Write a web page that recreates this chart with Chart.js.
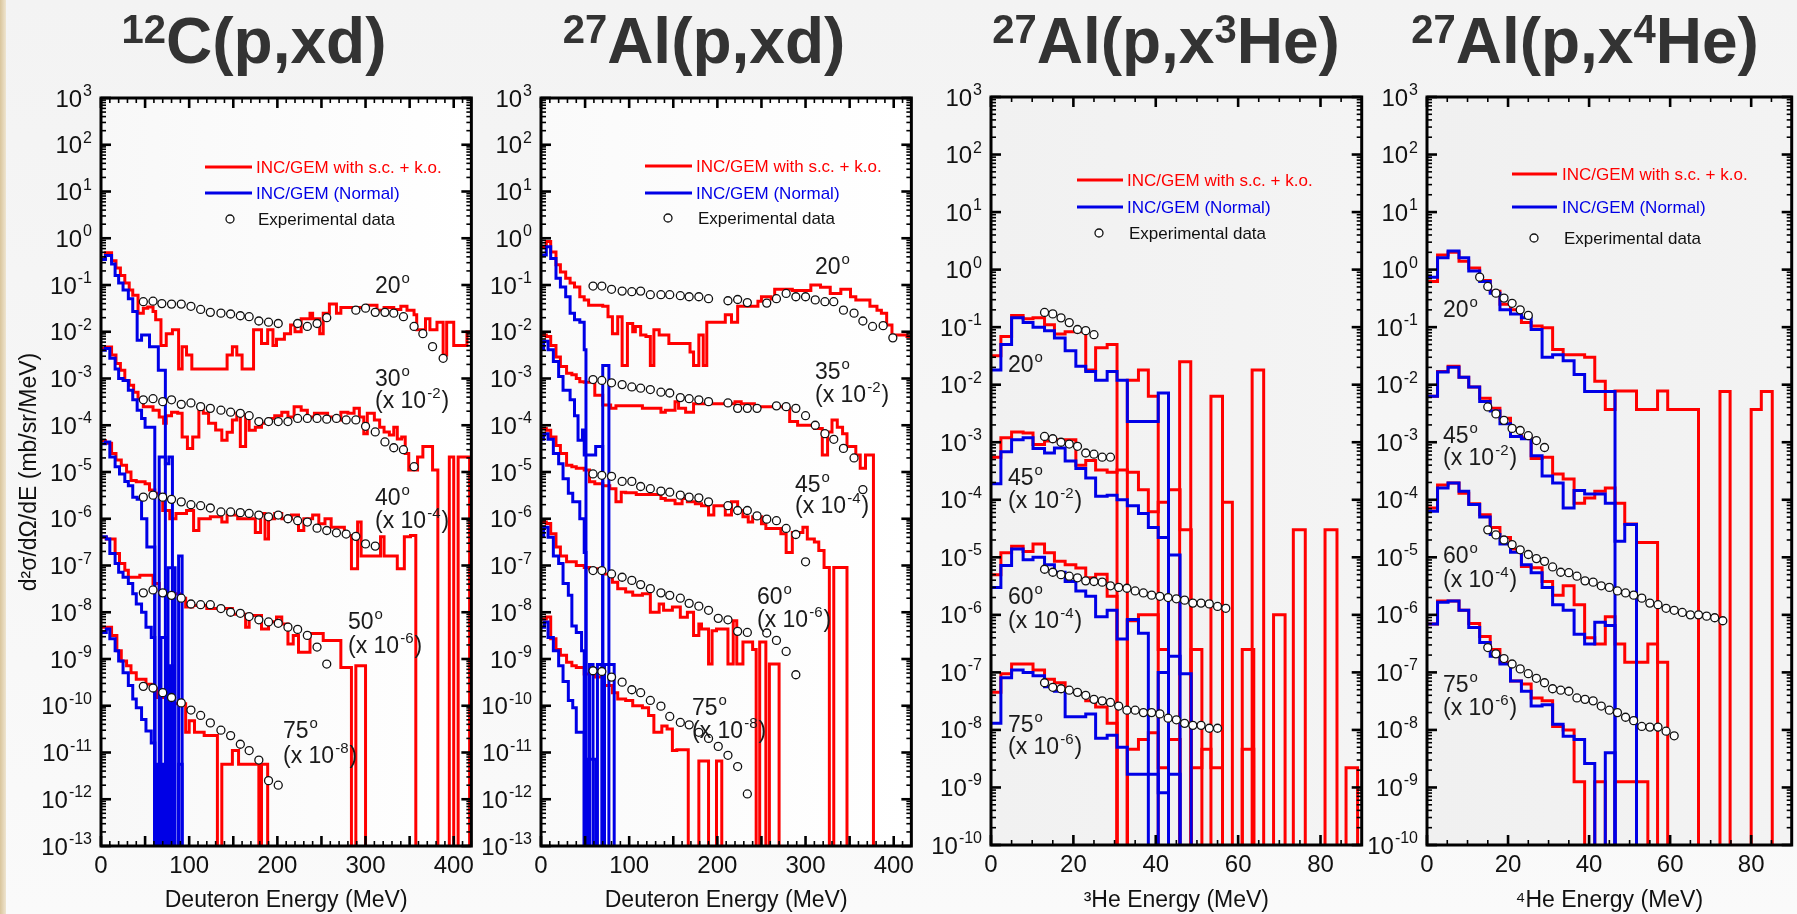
<!DOCTYPE html>
<html>
<head>
<meta charset="utf-8">
<title>INC/GEM with s.c. + k.o. vs data</title>
<script src="https://cdn.jsdelivr.net/npm/chart.js@4.4.0/dist/chart.umd.min.js"></script>
<style>
  html, body { margin: 0; padding: 0; }
  body {
    width: 1797px; height: 914px; overflow: hidden; position: relative;
    background: linear-gradient(180deg, #f3f3f3 0%, #f6f6f6 45%, #fafafa 100%);
  }
  #edge { position: absolute; left: 0; top: 0; width: 6px; height: 914px;
    background: linear-gradient(90deg, #d9c59c, #efe5d0); }
  canvas { position: absolute; top: 0; }
</style>
</head>
<body>
<div id="edge"></div>
<canvas id="p1" width="480" height="914" style="left:0px"></canvas>
<canvas id="p2" width="440" height="914" style="left:480px"></canvas>
<canvas id="p3" width="447" height="914" style="left:920px"></canvas>
<canvas id="p4" width="430" height="914" style="left:1367px"></canvas>
<script>
const FONT = "'Liberation Sans', Arial, 'DejaVu Sans', sans-serif";
const RED = '#ff0000';
const BLUE = '#0000e6';
const FLOOR = 1e-30; // empty bin, falls below the axis

const modelNames = ['INC/GEM with s.c. + k.o.', 'INC/GEM (Normal)', 'Experimental data'];

// histograms: [bin start (MeV), value]; last entry closes the last bin
// values are unscaled mb/sr/MeV, the factor of each angle is applied when plotting

// ---------- 12C(p,xd) ----------
const c12Angles = ['20', '30', '40', '50', '75'];
const c12Factors = [1, 1e-2, 1e-4, 1e-6, 1e-8];

const c12Red20 = [[0,3.6e-1],[5,4.9e-1],[12,3.3e-1],[17,2.3e-1],[22,1.6e-1],[27,1.1e-1],[32,7.8e-2],[36,6.0e-2],[42,2.5e-2],[48,3.2e-2],[53,3.4e-2],[59,2.7e-2],[62,1.8e-2],[68,5.1e-3],[74,9.1e-3],[81,1.1e-2],[88,1.6e-3],[92,4.8e-3],[97,3.2e-3],[103,1.6e-3],[143,3.2e-3],[149,4.8e-3],[154,3.2e-3],[160,1.6e-3],[173,1.1e-2],[182,5.6e-3],[189,1.1e-2],[195,5.1e-3],[199,6.9e-3],[208,9.1e-3],[215,1.4e-2],[220,1.0e-2],[227,1.9e-2],[237,2.5e-2],[240,1.9e-2],[248,9.1e-3],[252,2.5e-2],[259,3.9e-2],[267,2.5e-2],[272,3.3e-2],[302,3.7e-2],[313,2.9e-2],[321,3.3e-2],[332,3.0e-2],[340,3.5e-2],[347,2.9e-2],[355,2.3e-2],[358,1.1e-2],[368,1.9e-2],[373,1.1e-2],[381,1.6e-2],[388,3.2e-3],[392,1.6e-2],[400,5.1e-3],[415,1.0e-2],[420,1.0e-2]];
const c12Blue20 = [[0,3.5e-1],[5,4.3e-1],[12,2.8e-1],[16,1.6e-1],[20,1.1e-1],[25,7.8e-2],[31,5.1e-2],[36,2.7e-2],[41,6.6e-3],[46,8.5e-3],[55,4.8e-3],[65,1.5e-3],[73,0]];
const c12Exp20 = [[48,4.4e-2],[59,4.5e-2],[69,4.0e-2],[80,3.9e-2],[91,3.9e-2],[102,3.5e-2],[113,3.0e-2],[124,2.6e-2],[136,2.5e-2],[147,2.4e-2],[158,2.2e-2],[168,2.1e-2],[179,1.7e-2],[190,1.6e-2],[201,1.5e-2],[223,1.5e-2],[234,1.3e-2],[245,1.5e-2],[256,2.0e-2],[289,2.9e-2],[300,3.2e-2],[311,2.6e-2],[322,2.6e-2],[332,2.5e-2],[343,2.1e-2],[355,1.3e-2],[365,9.1e-3],[376,4.8e-3],[388,2.7e-3]];

const c12Red30 = [[0,4.4e-1],[5,4.7e-1],[12,3.2e-1],[17,2.1e-1],[22,1.5e-1],[27,9.1e-2],[32,7.2e-2],[37,5.1e-2],[42,3.7e-2],[48,2.5e-2],[59,2.1e-2],[66,1.5e-2],[71,1.1e-2],[74,1.6e-2],[80,1.9e-2],[87,1.8e-2],[92,5.6e-3],[98,3.2e-3],[104,5.6e-3],[111,2.5e-2],[116,1.8e-2],[122,1.1e-2],[130,7.9e-3],[137,4.8e-3],[143,7.1e-3],[149,1.3e-2],[154,1.8e-2],[158,3.5e-3],[164,1.7e-2],[168,7.8e-3],[175,9.1e-3],[182,1.1e-2],[190,1.4e-2],[197,1.6e-2],[205,1.9e-2],[212,1.5e-2],[219,2.5e-2],[227,2.1e-2],[234,1.5e-2],[242,1.8e-2],[257,1.5e-2],[265,1.3e-2],[272,1.9e-2],[280,1.8e-2],[287,2.3e-2],[293,1.5e-2],[298,6.6e-3],[302,1.8e-2],[310,1.3e-2],[316,9.1e-3],[321,7.2e-3],[327,6.2e-3],[332,9.1e-3],[336,5.1e-3],[341,5.6e-3],[345,2.5e-3],[349,1.1e-3],[359,2.1e-3],[365,3.5e-3],[376,1.1e-3],[382,0],[395,2.1e-3],[400,0],[405,2.1e-3],[418,0]];
const c12Blue30 = [[0,4.0e-1],[5,4.4e-1],[10,2.7e-1],[16,1.6e-1],[20,1.0e-1],[25,9.1e-2],[31,5.6e-2],[36,3.5e-2],[41,2.1e-2],[46,1.4e-2],[50,9.1e-3],[61,0],[66,2.1e-3],[73,1.5e-3],[77,2.1e-3],[81,0]];
const c12Exp30 = [[48,3.5e-2],[59,3.7e-2],[70,3.2e-2],[80,3.5e-2],[91,2.8e-2],[102,3.0e-2],[113,2.5e-2],[124,2.3e-2],[136,2.1e-2],[147,1.9e-2],[158,1.8e-2],[168,1.6e-2],[179,1.2e-2],[190,1.2e-2],[201,1.2e-2],[212,1.2e-2],[223,1.4e-2],[234,1.4e-2],[245,1.4e-2],[256,1.35e-2],[267,1.4e-2],[278,1.3e-2],[289,1.3e-2],[300,9.5e-3],[311,7.2e-3],[322,4.4e-3],[332,3.3e-3],[343,3.0e-3],[355,1.3e-3]];

const c12Red40 = [[0,4.7e-1],[5,4.1e-1],[12,2.5e-1],[17,1.8e-1],[23,1.4e-1],[29,1.0e-1],[34,6.6e-2],[40,6.2e-2],[50,5.6e-2],[55,4.1e-2],[61,3.5e-2],[66,3.2e-2],[70,1.5e-2],[78,1.0e-2],[85,1.3e-2],[97,1.5e-2],[105,5.6e-3],[111,1.0e-2],[124,1.1e-2],[137,8.5e-3],[143,1.2e-2],[155,1.0e-2],[175,5.1e-3],[181,1.3e-2],[186,3.7e-3],[190,1.0e-2],[197,1.3e-2],[205,1.0e-2],[216,1.2e-2],[224,5.6e-3],[230,1.0e-2],[240,1.2e-2],[247,7.8e-3],[254,1.0e-2],[261,6.6e-3],[276,4.4e-3],[284,8.5e-4],[291,8.5e-3],[295,1.6e-3],[317,4.1e-3],[321,1.6e-3],[336,8.5e-4],[344,4.1e-3],[351,4.4e-3],[357,0]];
const c12Blue40 = [[0,4.0e-1],[5,4.4e-1],[10,2.1e-1],[16,1.3e-1],[21,9.1e-2],[27,6.3e-2],[31,5.1e-2],[36,2.9e-2],[41,2.6e-2],[46,1.0e-2],[52,2.5e-3],[61,0],[76,8.9e-4],[84,0],[88,1.6e-3],[92,0]];
const c12Exp40 = [[48,2.9e-2],[59,3.2e-2],[70,2.9e-2],[80,2.6e-2],[91,2.3e-2],[102,2.0e-2],[113,1.9e-2],[124,1.7e-2],[136,1.4e-2],[147,1.4e-2],[158,1.35e-2],[168,1.3e-2],[179,1.2e-2],[190,1.1e-2],[201,1.2e-2],[212,1.0e-2],[223,9.1e-3],[234,8.5e-3],[245,6.3e-3],[256,5.6e-3],[267,5.0e-3],[278,4.7e-3],[289,4.2e-3],[300,2.9e-3],[311,2.6e-3]];

const c12Red50 = [[0,4.0e-1],[6,3.7e-1],[16,1.8e-1],[21,1.1e-1],[27,7.9e-2],[31,5.6e-2],[44,6.2e-2],[59,4.1e-2],[66,2.9e-2],[74,2.5e-2],[89,2.0e-2],[96,1.3e-2],[104,1.4e-2],[120,1.2e-2],[149,9.1e-3],[164,4.8e-3],[168,8.5e-3],[182,4.4e-3],[190,6.3e-3],[199,7.9e-3],[205,5.6e-3],[212,2.1e-3],[218,3.2e-3],[224,1.4e-3],[237,3.5e-3],[252,2.5e-3],[272,6.6e-4],[284,0],[289,7.2e-4],[300,0]];
const c12Blue50 = [[0,4.1e-1],[6,3.7e-1],[10,1.8e-1],[16,1.1e-1],[20,7.2e-2],[25,5.6e-2],[31,4.1e-2],[36,2.5e-2],[40,1.5e-2],[46,1.0e-2],[51,4.8e-3],[57,2.9e-3],[61,0],[68,2.9e-3],[74,0],[78,7.2e-4],[83,0]];
const c12Exp50 = [[48,2.6e-2],[59,3.0e-2],[70,2.6e-2],[80,2.3e-2],[91,2.0e-2],[102,1.5e-2],[113,1.45e-2],[124,1.45e-2],[136,1.2e-2],[147,1.0e-2],[158,9.5e-3],[168,8.1e-3],[179,6.9e-3],[190,6.2e-3],[201,5.8e-3],[212,4.8e-3],[223,4.3e-3],[234,3.2e-3],[245,1.8e-3],[256,7.8e-4]];

const c12Red75 = [[0,4.8e-1],[12,3.2e-1],[18,1.5e-1],[23,9.1e-2],[29,7.2e-2],[34,5.1e-2],[40,3.7e-2],[51,2.9e-2],[57,2.3e-2],[64,1.5e-2],[74,1.3e-2],[81,1.1e-2],[96,2.7e-3],[100,4.8e-3],[106,2.7e-3],[117,2.3e-3],[132,0],[137,5.6e-4],[149,1.1e-3],[156,5.6e-4],[179,0],[182,5.6e-4],[189,0]];
const c12Blue75 = [[0,3.7e-1],[6,4.4e-1],[10,2.7e-1],[16,1.5e-1],[20,9.1e-2],[25,5.1e-2],[31,2.7e-2],[36,1.4e-2],[40,9.1e-3],[46,5.1e-3],[51,2.9e-3],[57,1.6e-3],[61,0],[64,5.6e-4],[70,0],[74,5.6e-4],[81,0],[88,5.6e-4],[92,0]];
const c12Exp75 = [[48,2.6e-2],[59,2.4e-2],[70,1.9e-2],[80,1.5e-2],[91,1.15e-2],[102,8.1e-3],[113,6.2e-3],[124,4.3e-3],[136,3.0e-3],[147,2.3e-3],[158,1.5e-3],[168,1.1e-3],[179,6.9e-4],[190,2.5e-4],[201,2.0e-4]];

// ---------- 27Al(p,xd) ----------
const alDAngles = ['20', '35', '45', '60', '75'];
const alDFactors = [1, 1e-2, 1e-4, 1e-6, 1e-8];

const alDRed20 = [[0,6.6e-1],[6,8.5e-1],[11,5.1e-1],[17,2.7e-1],[22,1.9e-1],[28,1.4e-1],[33,1.1e-1],[38,9.1e-2],[44,5.6e-2],[49,4.8e-2],[54,3.7e-2],[70,3.5e-2],[76,2.1e-2],[81,9.1e-3],[87,2.1e-2],[92,1.9e-3],[98,1.5e-2],[104,1.0e-2],[107,1.3e-2],[113,8.5e-3],[119,7.9e-3],[124,1.9e-3],[128,1.1e-2],[134,8.5e-3],[145,5.6e-3],[169,3.7e-3],[173,1.9e-3],[179,8.5e-3],[184,1.9e-3],[188,1.6e-2],[209,2.3e-2],[216,1.6e-2],[223,3.5e-2],[246,4.5e-2],[250,5.6e-2],[261,5.0e-2],[265,8.1e-2],[285,7.6e-2],[306,1.0e-1],[317,8.9e-2],[328,6.6e-2],[340,8.1e-2],[351,5.6e-2],[357,4.8e-2],[373,3.5e-2],[381,2.9e-2],[386,2.5e-2],[392,1.4e-2],[398,8.5e-3],[415,7.9e-3],[420,7.9e-3]];
const alDBlue20 = [[0,4.4e-1],[6,6.6e-1],[11,3.7e-1],[17,1.4e-1],[22,9.1e-2],[28,5.6e-2],[33,2.5e-2],[38,1.8e-2],[44,1.6e-2],[49,4.1e-3],[51,0],[70,1.9e-3],[77,0]];
const alDExp20 = [[59,9.5e-2],[69,9.5e-2],[80,8.1e-2],[92,7.4e-2],[103,7.2e-2],[113,7.4e-2],[124,6.2e-2],[136,6.2e-2],[146,6.2e-2],[158,5.9e-2],[168,5.6e-2],[179,5.6e-2],[190,5.1e-2],[212,4.6e-2],[223,4.9e-2],[234,4.2e-2],[256,4.1e-2],[267,5.1e-2],[278,6.6e-2],[289,5.6e-2],[300,5.6e-2],[311,4.8e-2],[322,4.4e-2],[332,4.4e-2],[343,2.9e-2],[355,2.5e-2],[365,1.7e-2],[376,1.3e-2],[388,1.35e-2],[399,7.4e-3]];

const alDRed35 = [[0,8.5e-1],[6,7.9e-1],[11,5.1e-1],[17,2.9e-1],[22,1.8e-1],[29,1.3e-1],[35,1.2e-1],[40,1.0e-1],[44,8.5e-2],[49,8.3e-2],[61,4.4e-2],[70,2.7e-2],[79,2.3e-2],[85,2.6e-2],[115,2.3e-2],[136,1.9e-2],[141,2.1e-2],[152,3.2e-2],[156,2.3e-2],[164,1.9e-2],[173,2.9e-2],[220,3.2e-2],[227,2.9e-2],[242,2.5e-2],[276,2.3e-2],[282,1.2e-2],[291,1.0e-2],[310,8.5e-3],[319,2.3e-3],[325,7.2e-3],[330,1.3e-2],[336,9.1e-3],[342,6.6e-3],[347,3.5e-3],[357,2.3e-3],[362,1.2e-3],[368,2.3e-3],[377,0]];
const alDBlue35 = [[0,4.4e-1],[3,6.3e-1],[8,4.1e-1],[14,2.3e-1],[20,1.1e-1],[25,5.6e-2],[33,3.5e-2],[38,1.6e-2],[42,4.8e-3],[47,7.9e-3],[49,2.3e-3],[62,3.5e-3],[70,0]];
const alDExp35 = [[59,9.5e-2],[69,9.1e-2],[80,8.1e-2],[92,7.4e-2],[103,6.6e-2],[113,6.2e-2],[124,5.8e-2],[136,5.1e-2],[146,4.9e-2],[158,3.9e-2],[168,3.7e-2],[179,3.5e-2],[190,3.2e-2],[212,3.0e-2],[223,2.3e-2],[234,2.3e-2],[245,2.3e-2],[267,2.6e-2],[278,2.5e-2],[289,2.3e-2],[300,1.6e-2],[311,1.0e-2],[322,6.6e-3],[332,5.0e-3],[343,3.2e-3],[355,2.0e-3]];

const alDRed45 = [[0,8.5e-1],[6,7.8e-1],[11,5.6e-1],[17,3.7e-1],[22,2.5e-1],[29,1.4e-1],[35,1.3e-1],[40,1.2e-1],[49,1.1e-1],[55,6.2e-2],[61,5.6e-2],[70,5.1e-2],[78,4.4e-2],[85,2.3e-2],[91,3.7e-2],[96,3.6e-2],[108,3.3e-2],[136,2.7e-2],[141,2.5e-2],[152,2.1e-2],[160,2.7e-2],[166,2.3e-2],[175,2.1e-2],[182,1.9e-2],[190,1.2e-2],[196,1.9e-2],[209,1.2e-2],[216,2.3e-2],[223,1.5e-2],[229,1.1e-2],[235,8.5e-3],[240,1.1e-2],[250,7.8e-3],[255,6.2e-3],[272,4.8e-3],[278,1.9e-3],[285,5.1e-3],[297,6.6e-3],[302,3.7e-3],[310,3.2e-3],[315,2.1e-3],[321,9.1e-4],[327,0],[332,9.1e-4],[347,0]];
const alDBlue45 = [[0,5.0e-1],[3,6.6e-1],[8,5.0e-1],[14,2.5e-1],[20,1.5e-1],[25,7.2e-2],[31,3.5e-2],[36,2.3e-2],[44,1.0e-2],[49,1.9e-3],[51,0]];
const alDExp45 = [[59,9.1e-2],[69,8.5e-2],[80,8.1e-2],[92,6.3e-2],[103,6.3e-2],[113,4.9e-2],[124,4.4e-2],[136,3.9e-2],[146,3.7e-2],[158,3.2e-2],[168,2.9e-2],[179,2.8e-2],[190,2.3e-2],[212,1.9e-2],[223,1.5e-2],[234,1.5e-2],[245,1.15e-2],[256,9.8e-3],[267,9.1e-3],[278,6.2e-3],[289,4.6e-3],[300,1.2e-3],[365,4.2e-2]];

const alDRed60 = [[0,8.5e-1],[6,7.9e-1],[11,4.8e-1],[17,2.5e-1],[22,1.6e-1],[29,1.2e-1],[40,1.0e-1],[49,9.1e-2],[55,8.5e-2],[70,6.6e-2],[81,4.4e-2],[87,3.2e-2],[96,2.7e-2],[104,2.3e-2],[115,2.5e-2],[124,1.0e-2],[134,1.5e-2],[139,1.1e-2],[149,1.3e-2],[158,7.8e-3],[166,1.0e-2],[173,3.2e-3],[179,5.6e-3],[182,4.4e-3],[190,7.8e-4],[194,4.0e-3],[199,4.4e-3],[212,7.8e-4],[218,6.6e-3],[222,7.8e-4],[229,2.3e-3],[240,1.6e-3],[244,0],[248,2.3e-3],[255,0],[259,7.8e-4],[270,0]];
const alDBlue60 = [[0,4.4e-1],[3,6.6e-1],[8,4.0e-1],[14,1.6e-1],[20,1.1e-1],[25,4.1e-2],[31,2.3e-2],[35,5.1e-3],[40,3.7e-3],[46,1.5e-3],[49,0],[55,7.6e-4],[59,0],[64,7.6e-4],[69,0],[72,7.6e-4],[83,0]];
const alDExp60 = [[59,7.8e-2],[69,7.8e-2],[80,6.6e-2],[92,5.6e-2],[103,4.8e-2],[113,3.9e-2],[124,3.2e-2],[136,2.6e-2],[146,2.3e-2],[158,2.0e-2],[168,1.55e-2],[179,1.35e-2],[190,1.1e-2],[201,7.4e-3],[212,6.9e-3],[223,3.9e-3],[234,3.7e-3],[256,3.6e-3],[267,2.5e-3],[278,1.45e-3],[289,4.6e-4]];

const alDRed75 = [[0,7.2e-1],[6,7.9e-1],[11,2.7e-1],[17,1.6e-1],[22,1.2e-1],[29,8.5e-2],[35,7.2e-2],[40,6.6e-2],[49,4.8e-2],[61,4.1e-2],[70,2.7e-2],[81,1.9e-2],[87,1.4e-2],[96,1.3e-2],[104,1.0e-2],[115,9.1e-3],[122,6.2e-3],[128,2.7e-3],[137,3.7e-3],[143,3.2e-3],[149,1.1e-3],[154,1.15e-3],[167,0],[179,6.6e-4],[190,0],[199,6.6e-4],[205,0]];
const alDBlue75 = [[0,4.8e-1],[4,6.2e-1],[8,2.9e-1],[14,1.5e-1],[20,7.2e-2],[25,3.3e-2],[31,1.3e-2],[36,9.1e-3],[40,2.7e-3],[49,0],[53,7.2e-4],[62,0]];
const alDExp75 = [[59,5.6e-2],[69,5.4e-2],[80,4.1e-2],[92,3.2e-2],[103,2.2e-2],[113,1.9e-2],[124,1.3e-2],[136,9.8e-3],[146,5.9e-3],[158,4.4e-3],[168,3.9e-3],[179,2.7e-3],[190,2.0e-3],[201,1.35e-3],[212,8.7e-4],[223,5.0e-4],[234,1.3e-4]];

// ---------- 27Al(p,x3He) ----------
const he3Angles = ['20', '45', '60', '75'];
const he3Factors = [1, 1e-2, 1e-4, 1e-6];

const he3Red20 = [[0,3.2e-2],[2.4,6.9e-2],[5,1.6e-1],[7.8,1.4e-1],[10.2,1.45e-1],[13,1.1e-1],[15.4,7.6e-2],[18,8.3e-2],[23,1.8e-2],[25.4,4.4e-2],[28.2,5.0e-2],[30.6,0],[33.1,1.2e-2],[35.8,1.8e-2],[38.2,6.3e-3],[40.6,0],[45.8,2.5e-2],[48.5,0],[53.4,6.3e-3],[56.2,0],[63.4,1.8e-2],[66.2,0]];
const he3Blue20 = [[0,1.8e-2],[2.4,5.0e-2],[5,1.45e-1],[7.8,1.2e-1],[10.2,1.0e-1],[13,8.7e-2],[15.4,6.5e-2],[18,3.9e-2],[20.6,2.1e-2],[23,1.7e-2],[25.4,1.2e-2],[28.2,1.7e-2],[30.6,1.2e-2],[33.1,2.3e-3],[40.6,7.2e-3],[43.1,0]];
const he3Exp20 = [[13,1.8e-1],[15,1.7e-1],[17,1.45e-1],[19,1.2e-1],[21,9.1e-2],[23,8.7e-2],[25,7.4e-2]];

const he3Red45 = [[0,5.5e-2],[2.4,1.2e-1],[5,1.5e-1],[7.8,1.45e-1],[10.2,9.1e-2],[13,1.05e-1],[15.4,1.1e-1],[18,1.1e-1],[20.6,4.0e-2],[23,4.8e-2],[25.4,3.3e-2],[28.2,3.0e-2],[30.6,3.3e-2],[33.1,3.0e-2],[35.8,1.5e-2],[38.2,6.2e-3],[40.6,9.1e-3],[43.1,1.5e-2],[45.9,3.0e-3],[48.6,0],[56.2,9.1e-3],[58.6,0],[73.4,3.0e-3],[76.3,0],[81.1,3.0e-3],[84,0]];
const he3Blue45 = [[0,1.9e-2],[2.4,6.8e-2],[5,1.1e-1],[7.8,1.2e-1],[10.2,7.8e-2],[13,6.5e-2],[15.4,7.9e-2],[18,4.7e-2],[20.6,3.5e-2],[23,2.4e-2],[25.4,1.15e-2],[28.2,1.2e-2],[30.6,1.0e-2],[33.1,7.9e-3],[35.8,5.8e-3],[38.2,3.3e-3],[40.6,2.2e-3],[43.1,1.1e-3],[45.9,0]];
const he3Exp45 = [[13,1.26e-1],[15,1.15e-1],[17,1.0e-1],[19,9.3e-2],[21,8.5e-2],[23,6.5e-2],[25,6.2e-2],[27,5.5e-2],[29,5.5e-2]];

const he3Red60 = [[0,5.0e-2],[2.4,1.2e-1],[5,1.55e-1],[7.8,1.26e-1],[10.2,1.7e-1],[13,1.2e-1],[15.4,8.5e-2],[18,7.4e-2],[20.6,6.5e-2],[23,4.4e-2],[25.4,5.1e-2],[28.2,2.1e-2],[30.6,0],[33.1,7.9e-3],[35.8,1.0e-2],[40.6,2.5e-3],[43.1,0],[48.6,2.5e-3],[51.2,0],[61,2.5e-3],[63.8,0],[68.6,1.0e-2],[71.4,0]];
const he3Blue60 = [[0,3.0e-2],[2.4,7.2e-2],[5,1.4e-1],[7.8,9.1e-2],[10.2,1.0e-1],[13,7.4e-2],[15.4,5.5e-2],[18,3.8e-2],[20.6,2.6e-2],[23,2.1e-2],[25.4,9.3e-3],[28.2,1.2e-2],[30.6,3.8e-3],[33.1,8.3e-3],[35.8,4.8e-3],[38.2,0],[40.6,1.0e-3],[43.1,1.9e-3],[45.9,9.5e-4],[48.6,0]];
const he3Exp60 = [[13,6.2e-2],[15,5.5e-2],[17,5.0e-2],[19,4.7e-2],[21,4.4e-2],[23,3.9e-2],[25,3.8e-2],[27,3.7e-2],[29,3.2e-2],[31,3.0e-2],[33,2.9e-2],[35,2.6e-2],[37,2.4e-2],[39,2.2e-2],[41,2.1e-2],[43,2.0e-2],[45,1.9e-2],[47,1.8e-2],[49,1.6e-2],[51,1.6e-2],[53,1.55e-2],[55,1.4e-2],[57,1.3e-2]];

const he3Red75 = [[0,4.5e-2],[2.4,9.5e-2],[5,1.4e-1],[7.8,1.4e-1],[10.2,1.1e-1],[13,7.6e-2],[15.4,6.6e-2],[18,4.7e-2],[20.6,4.3e-2],[23,3.2e-2],[25.4,2.5e-2],[28.2,1.3e-2],[30.6,0],[33.1,4.6e-3],[35.8,6.8e-3],[38.2,8.9e-3],[40.6,2.2e-3],[43.1,6.8e-3],[45.9,0],[48.6,2.2e-3],[51.2,4.6e-3],[53.4,2.2e-3],[56.2,0],[61,4.6e-3],[63.8,0],[86.2,2.2e-3],[89,0]];
const he3Blue75 = [[0,1.3e-2],[2.4,8.1e-2],[5,1.1e-1],[7.8,1.0e-1],[10.2,8.7e-2],[13,5.6e-2],[15.4,4.7e-2],[18,1.7e-2],[23,1.9e-2],[25.4,7.2e-3],[28.2,8.1e-3],[30.6,5.0e-3],[33.1,1.7e-3],[40.6,8.1e-4],[43.1,1.7e-3],[45.9,0]];
const he3Exp75 = [[13,6.6e-2],[15,5.5e-2],[17,5.2e-2],[19,4.9e-2],[21,4.5e-2],[23,4.0e-2],[25,3.4e-2],[27,3.2e-2],[29,3.0e-2],[31,2.6e-2],[33,2.2e-2],[35,2.2e-2],[37,2.0e-2],[39,2.0e-2],[41,1.9e-2],[43,1.6e-2],[45,1.5e-2],[47,1.3e-2],[49,1.2e-2],[51,1.2e-2],[53,1.07e-2],[55,1.07e-2]];

// ---------- 27Al(p,x4He) ----------
const he4Angles = ['20', '45', '60', '75'];
const he4Factors = [1, 1e-2, 1e-4, 1e-6];

const he4Red20 = [[0,6.2e-1],[2.6,1.8],[5.2,2.0],[7.9,1.4],[10.3,1.07],[13,6.5e-1],[15.6,4.2e-1],[18,2.5e-1],[20.6,2.0e-1],[23.3,1.2e-1],[25.7,1.05e-1],[28.4,9.8e-2],[31,4.1e-2],[33.6,3.3e-2],[38.9,3.0e-2],[41.4,1.15e-2],[44,3.7e-3],[46.4,7.8e-3],[51.7,3.7e-3],[56.9,7.8e-3],[59.4,3.7e-3],[67,0],[72.3,7.6e-3],[74.8,0],[80,3.7e-3],[82.5,7.6e-3],[85.2,0]];
const he4Blue20 = [[0,7.4e-1],[2.6,1.6],[5.2,2.1],[7.9,1.6],[10.3,9.5e-1],[13,6.2e-1],[15.6,3.9e-1],[18,2.0e-1],[20.6,1.7e-1],[23.3,1.45e-1],[25.7,9.1e-2],[28.4,3.0e-2],[31,3.3e-2],[33.6,2.6e-2],[36.3,1.5e-2],[38.9,7.6e-3],[46.4,0]];
const he4Exp20 = [[13,7.4e-1],[15,5.1e-1],[17,3.9e-1],[19,3.2e-1],[21,2.6e-1],[23,2.0e-1],[25,1.6e-1]];

const he4Red45 = [[0,6.3e-1],[2.6,1.7],[5.2,2.1],[7.9,1.35],[10.3,9.1e-1],[13,5.8e-1],[15.6,3.9e-1],[18,2.6e-1],[20.6,1.7e-1],[23.3,1.2e-1],[25.7,5.2e-2],[28.4,5.5e-2],[31,2.8e-2],[33.6,2.3e-2],[36.3,8.7e-3],[38.9,1.07e-2],[41.4,1.4e-2],[44,1.6e-2],[46.4,8.7e-3],[48.8,3.8e-3],[51.7,1.8e-3],[56.9,0]];
const he4Blue45 = [[0,6.3e-1],[2.6,1.66],[5.2,2.0],[7.9,1.35],[10.3,9.1e-1],[13,5.1e-1],[15.6,3.5e-1],[18,2.1e-1],[20.6,1.26e-1],[23.3,1.15e-1],[25.7,5.8e-2],[28.4,2.6e-2],[31,1.95e-2],[33.6,7.2e-3],[36.3,1.45e-2],[38.9,1.26e-2],[44,8.7e-3],[46.4,1.9e-3],[48.8,3.7e-3],[51.7,0]];
const he4Exp45 = [[15,4.1e-1],[17,3.1e-1],[19,2.4e-1],[21,1.74e-1],[23,1.6e-1],[25,1.3e-1],[27,1.07e-1],[29,8.1e-2]];

const he4Red60 = [[0,7.2e-1],[2.6,1.8],[5.2,1.95],[7.9,1.3],[10.3,8.5e-1],[13,5.5e-1],[15.6,3.3e-1],[18,2.2e-1],[20.6,1.4e-1],[23.3,6.9e-2],[25.7,6.6e-2],[28.4,3.8e-2],[31,2.2e-2],[33.6,3.2e-2],[36.3,1.5e-2],[38.9,4.0e-3],[41.4,3.1e-3],[44,9.3e-3],[46.4,3.1e-3],[48.8,1.5e-3],[54.5,3.1e-3],[56.9,1.5e-3],[59.4,0]];
const he4Blue60 = [[0,6.3e-1],[2.6,1.6],[5.2,1.95],[7.9,1.4],[10.3,8.3e-1],[13,5.0e-1],[15.6,2.5e-1],[18,1.7e-1],[20.6,1.23e-1],[23.3,7.4e-2],[25.7,5.4e-2],[28.4,3.0e-2],[31,1.5e-2],[33.6,1.2e-2],[36.3,4.6e-3],[38.9,3.1e-3],[41.4,7.4e-3],[44,6.5e-3],[46.4,0]];
const he4Exp60 = [[15,3.0e-1],[17,2.45e-1],[19,2.0e-1],[21,1.66e-1],[23,1.35e-1],[25,1.12e-1],[27,9.5e-2],[29,8.5e-2],[31,6.8e-2],[33,5.5e-2],[35,5.4e-2],[37,4.7e-2],[39,3.9e-2],[41,3.7e-2],[43,3.2e-2],[45,3.0e-2],[47,2.6e-2],[49,2.4e-2],[51,2.2e-2],[53,1.95e-2],[55,1.6e-2],[57,1.5e-2],[59,1.3e-2],[61,1.2e-2],[63,1.1e-2],[65,1.0e-2],[67,1.0e-2],[69,9.5e-3],[71,8.9e-3],[73,7.9e-3]];

const he4Red75 = [[0,6.9e-1],[2.6,1.74],[5.2,1.74],[7.9,1.2],[10.3,7.1e-1],[13,4.2e-1],[15.6,2.5e-1],[18,1.5e-1],[20.6,7.1e-2],[23.3,6.3e-2],[25.7,3.6e-2],[28.4,3.2e-2],[31,1.15e-2],[33.6,1.0e-2],[36.3,1.26e-3],[38.9,0],[41.4,1.26e-3],[44,0],[46.4,1.26e-3],[54.5,0]];
const he4Blue75 = [[0,6.9e-1],[2.6,1.66],[5.2,1.74],[7.9,1.2],[10.3,6.0e-1],[13,3.3e-1],[15.6,1.9e-1],[18,1.4e-1],[20.6,7.1e-2],[23.3,4.7e-2],[25.7,2.6e-2],[28.4,2.75e-2],[31,1.26e-2],[33.6,7.8e-3],[36.3,6.8e-3],[38.9,2.6e-3],[41.4,0],[44,4.0e-3],[46.4,0]];
const he4Exp75 = [[15,2.7e-1],[17,2.1e-1],[19,1.74e-1],[21,1.4e-1],[23,1.15e-1],[25,9.5e-2],[27,7.9e-2],[29,6.6e-2],[31,5.2e-2],[33,4.9e-2],[35,4.7e-2],[37,3.6e-2],[39,3.4e-2],[41,3.2e-2],[43,2.6e-2],[45,2.2e-2],[47,2.0e-2],[49,1.66e-2],[51,1.45e-2],[53,1.15e-2],[55,1.12e-2],[57,1.12e-2],[59,9.5e-3],[61,7.9e-3]];

// ---------- panel layout ----------
const panels = [
  {
    canvas: 'p1', axisW: 101, padR: 5, top: 98, bottom: 846,
    xMax: 420, xLabels: [0, 100, 200, 300, 400], xMajor: 50, xMinor: 10, yMin: 1e-13,
    title: [['12', true], ['C(p,xd)', false]], titleCx: 254,
    xTitle: 'Deuteron Energy (MeV)', yTitle: 'd\u00b2\u03c3/d\u03a9/dE (mb/sr/MeV)',
    plotBg: ['#f8f8f8', '#ffffff'],
    legend: { x0: 104, x1: 151, tx: 155, y: [69, 95, 121], dot: 129 },
    labelPos: [[375, 293], [375, 386, 408], [375, 505, 528], [348, 629, 653], [283, 738, 763]],
    angles: c12Angles, factors: c12Factors,
    red: [c12Red20, c12Red30, c12Red40, c12Red50, c12Red75],
    blue: [c12Blue20, c12Blue30, c12Blue40, c12Blue50, c12Blue75],
    exp: [c12Exp20, c12Exp30, c12Exp40, c12Exp50, c12Exp75]
  },
  {
    canvas: 'p2', axisW: 61, padR: 5, top: 98, bottom: 846,
    xMax: 420, xLabels: [0, 100, 200, 300, 400], xMajor: 50, xMinor: 10, yMin: 1e-13,
    title: [['27', true], ['Al(p,xd)', false]], titleCx: 224,
    xTitle: 'Deuteron Energy (MeV)', yTitle: '',
    plotBg: ['#fafafa', '#ffffff'],
    legend: { x0: 104, x1: 151, tx: 155, y: [68, 95, 120], dot: 127 },
    labelPos: [[335, 274], [335, 379, 402], [315, 492, 513], [277, 604, 627], [212, 715, 738]],
    angles: alDAngles, factors: alDFactors,
    red: [alDRed20, alDRed35, alDRed45, alDRed60, alDRed75],
    blue: [alDBlue20, alDBlue35, alDBlue45, alDBlue60, alDBlue75],
    exp: [alDExp20, alDExp35, alDExp45, alDExp60, alDExp75]
  },
  {
    canvas: 'p3', axisW: 71, padR: 2, top: 97, bottom: 845,
    xMax: 90, xLabels: [0, 20, 40, 60, 80], xMajor: 20, xMinor: 5, yMin: 1e-10,
    title: [['27', true], ['Al(p,x', false], ['3', true], ['He)', false]], titleCx: 246,
    xTitle: '\u00b3He Energy (MeV)', yTitle: '',
    plotBg: ['#f1f1f1', '#f4f4f4'],
    legend: { x0: 86, x1: 132, tx: 136, y: [83, 110, 136], dot: 108 },
    labelPos: [[88, 372], [88, 485, 508], [88, 604, 628], [88, 732, 754]],
    angles: he3Angles, factors: he3Factors,
    red: [he3Red20, he3Red45, he3Red60, he3Red75],
    blue: [he3Blue20, he3Blue45, he3Blue60, he3Blue75],
    exp: [he3Exp20, he3Exp45, he3Exp60, he3Exp75]
  },
  {
    canvas: 'p4', axisW: 60, padR: 2, top: 97, bottom: 845,
    xMax: 90, xLabels: [0, 20, 40, 60, 80], xMajor: 20, xMinor: 5, yMin: 1e-10,
    title: [['27', true], ['Al(p,x', false], ['4', true], ['He)', false]], titleCx: 218,
    xTitle: '\u2074He Energy (MeV)', yTitle: '',
    plotBg: ['#f0f0f0', '#f3f3f3'],
    legend: { x0: 85, x1: 130, tx: 135, y: [77, 110, 141], dot: 107 },
    labelPos: [[76, 317], [76, 443, 465], [76, 563, 587], [76, 692, 715]],
    angles: he4Angles, factors: he4Factors,
    red: [he4Red20, he4Red45, he4Red60, he4Red75],
    blue: [he4Blue20, he4Blue45, he4Blue60, he4Blue75],
    exp: [he4Exp20, he4Exp45, he4Exp60, he4Exp75]
  }
];

function stepData(hist, f) {
  return hist.map(([e, v]) => ({ x: e, y: v > 0 ? v * f : FLOOR }));
}
function expData(pts, f) {
  return pts.map(([e, v]) => ({ x: e, y: v * f }));
}

function buildDatasets(p) {
  const ds = [];
  p.angles.forEach((ang, i) => {
    const f = p.factors[i];
    ds.push({
      type: 'scatter', label: modelNames[2] + ' ' + ang + '\u00b0', order: 0,
      data: expData(p.exp[i], f),
      pointStyle: 'circle', pointRadius: 4, pointBorderWidth: 1.3,
      pointBorderColor: '#111', pointBackgroundColor: '#ffffff'
    });
    ds.push({
      type: 'line', label: modelNames[1] + ' ' + ang + '\u00b0', order: 1,
      data: stepData(p.blue[i], f), stepped: 'before',
      borderColor: BLUE, borderWidth: 3, pointRadius: 0, fill: false
    });
    ds.push({
      type: 'line', label: modelNames[0] + ' ' + ang + '\u00b0', order: 2,
      data: stepData(p.red[i], f), stepped: 'before',
      borderColor: RED, borderWidth: 3, pointRadius: 0, fill: false
    });
  });
  return ds;
}

// "10" with a raised exponent, right edge at xr, digits centred on y
function powerLabel(ctx, xr, y, exp) {
  const e = String(exp);
  ctx.font = `16px ${FONT}`;
  const we = ctx.measureText(e).width;
  ctx.font = `24px ${FONT}`;
  const wb = ctx.measureText('10').width;
  ctx.fillText('10', xr - we - wb - 1, y + 8.5);
  ctx.font = `16px ${FONT}`;
  ctx.fillText(e, xr - we, y - 2);
}

function makeDeco(p) {
  return {
    id: 'deco',
    beforeDatasetsDraw(chart) {
      const { ctx, chartArea: a } = chart;
      ctx.save();
      const g = ctx.createLinearGradient(a.left, 0, a.right, 0);
      g.addColorStop(0, p.plotBg[0]);
      g.addColorStop(1, p.plotBg[1]);
      ctx.fillStyle = g;
      ctx.fillRect(a.left, a.top, a.width, a.height);
      ctx.restore();
    },
    afterDatasetsDraw(chart) {
      const { ctx, chartArea: a, scales: { x, y } } = chart;
      ctx.save();
      ctx.strokeStyle = '#000';
      const seg = (x1, y1, x2, y2) => { ctx.beginPath(); ctx.moveTo(x1, y1); ctx.lineTo(x2, y2); ctx.stroke(); };
      // ticks inside the frame, on all four sides
      const e0 = Math.round(Math.log10(y.min)), e1 = Math.round(Math.log10(y.max));
      for (let e = e0; e <= e1; e++) {
        for (let m = 1; m <= 9; m++) {
          if (e === e1 && m > 1) break;
          const py = y.getPixelForValue(m * Math.pow(10, e));
          const major = m === 1;
          ctx.lineWidth = major ? 2.6 : 1.6;
          const len = major ? 10 : 5;
          seg(a.left, py, a.left + len, py);
          seg(a.right, py, a.right - len, py);
        }
      }
      for (let v = 0; v <= x.max + 1e-6; v += p.xMinor) {
        const px = x.getPixelForValue(v);
        const major = v % p.xMajor === 0;
        ctx.lineWidth = major ? 2.6 : 1.6;
        const len = major ? 10 : 5;
        seg(px, a.bottom, px, a.bottom - len);
        seg(px, a.top, px, a.top + len);
      }
      ctx.lineWidth = 3;
      ctx.strokeRect(a.left, a.top, a.width, a.height);
      ctx.restore();
    },
    afterDraw(chart) {
      const { ctx, chartArea: a, scales: { y } } = chart;
      ctx.save();
      ctx.textAlign = 'left';
      ctx.textBaseline = 'alphabetic';

      // y tick labels, one per decade of the log axis
      ctx.fillStyle = '#111';
      y.ticks.forEach(t => {
        powerLabel(ctx, a.left - 9, y.getPixelForValue(t.value), Math.round(Math.log10(t.value)));
      });

      // title
      ctx.fillStyle = '#333';
      const fonts = p.title.map(([, s]) => s ? `bold 40px ${FONT}` : `bold 64px ${FONT}`);
      const widths = p.title.map(([t], i) => { ctx.font = fonts[i]; return ctx.measureText(t).width; });
      let tx = p.titleCx - widths.reduce((s, w) => s + w, 0) / 2;
      p.title.forEach(([t, s], i) => {
        ctx.font = fonts[i];
        ctx.fillText(t, tx, s ? 43 : 63);
        tx += widths[i];
      });

      // legend
      const L = p.legend;
      ctx.textBaseline = 'middle';
      ctx.font = `17px ${FONT}`;
      [RED, BLUE].forEach((c, i) => {
        ctx.strokeStyle = c;
        ctx.lineWidth = 3.2;
        ctx.beginPath();
        ctx.moveTo(a.left + L.x0, a.top + L.y[i]);
        ctx.lineTo(a.left + L.x1, a.top + L.y[i]);
        ctx.stroke();
        ctx.fillStyle = c;
        ctx.fillText(modelNames[i], a.left + L.tx, a.top + L.y[i] + 1);
      });
      ctx.beginPath();
      ctx.arc(a.left + L.dot, a.top + L.y[2], 4, 0, Math.PI * 2);
      ctx.fillStyle = '#fff';
      ctx.fill();
      ctx.strokeStyle = '#111';
      ctx.lineWidth = 1.3;
      ctx.stroke();
      ctx.fillStyle = '#111';
      ctx.fillText(modelNames[2], a.left + L.tx + 2, a.top + L.y[2] + 1);

      // angle labels with scale factors
      ctx.textBaseline = 'alphabetic';
      ctx.fillStyle = '#1a1a1a';
      p.angles.forEach((ang, i) => {
        const [lx, ly, fy] = p.labelPos[i];
        ctx.font = `23px ${FONT}`;
        ctx.fillText(ang, lx, ly);
        const w = ctx.measureText(ang).width;
        ctx.font = `15px ${FONT}`;
        ctx.fillText('o', lx + w + 1, ly - 10);
        if (fy !== undefined) {
          const ex = String(Math.round(Math.log10(p.factors[i])));
          ctx.font = `23px ${FONT}`;
          ctx.fillText('(x 10', lx, fy);
          let w2 = ctx.measureText('(x 10').width;
          ctx.font = `15px ${FONT}`;
          ctx.fillText(ex, lx + w2 + 1, fy - 10);
          w2 += ctx.measureText(ex).width + 2;
          ctx.font = `23px ${FONT}`;
          ctx.fillText(')', lx + w2, fy);
        }
      });
      ctx.restore();
    }
  };
}

function decades(min) {
  const out = [];
  for (let e = Math.round(Math.log10(min)); e <= 3; e++) out.push(Math.pow(10, e));
  return out;
}

panels.forEach(p => {
  const el = document.getElementById(p.canvas);
  new Chart(el, {
    type: 'line',
    data: { datasets: buildDatasets(p) },
    options: {
      responsive: false,
      animation: false,
      devicePixelRatio: 1,
      events: [],
      layout: { padding: { top: p.top, right: p.padR, left: 0, bottom: 0 } },
      plugins: { legend: { display: false }, tooltip: { enabled: false } },
      scales: {
        x: {
          type: 'linear', min: 0, max: p.xMax,
          afterBuildTicks: s => { s.ticks = p.xLabels.map(v => ({ value: v })); },
          afterFit: s => { s.height = 914 - p.bottom; },
          grid: { display: false, drawTicks: false },
          border: { display: false },
          ticks: { autoSkip: false, maxRotation: 0, padding: 6, color: '#111',
            font: { family: FONT, size: 24 }, callback: v => String(v) },
          title: { display: true, text: p.xTitle, color: '#111',
            padding: { top: 0, bottom: 0 }, font: { family: FONT, size: 23 } }
        },
        y: {
          type: 'logarithmic', min: p.yMin, max: 1e3,
          afterBuildTicks: s => { s.ticks = decades(p.yMin).map(v => ({ value: v })); },
          afterFit: s => { s.width = p.axisW; },
          grid: { display: false, drawTicks: false },
          border: { display: false },
          ticks: { display: false },
          title: { display: p.yTitle !== '', text: p.yTitle, color: '#111',
            padding: { top: 16, bottom: 0 }, font: { family: FONT, size: 23 } }
        }
      }
    },
    plugins: [makeDeco(p)]
  });
});
</script>
</body>
</html>
